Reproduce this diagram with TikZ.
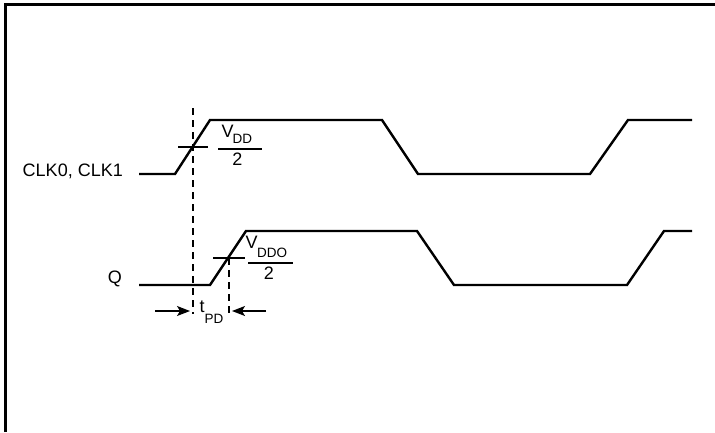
\documentclass[tikz,border=0pt]{standalone}
\usepackage{fontspec}
\setmainfont{Liberation Sans}
\usetikzlibrary{arrows.meta}
\tikzset{
  wave/.style={line width=2.4pt, line join=miter},
  tick/.style={line width=1.8pt},
  guide/.style={line width=1.2pt, dash pattern=on 7pt off 5pt},
  lbl/.style={inner sep=0pt, font=\fontsize{18}{18}\selectfont},
  sub/.style={inner sep=0pt, font=\fontsize{13.5}{13.5}\selectfont},
  dim/.style={line width=1.3pt, -{Stealth[length=13pt,width=10pt,inset=3pt]}},
}
\begin{document}
\begin{tikzpicture}[x=1pt,y=-1pt]
\useasboundingbox (0,0) rectangle (715,432);
\draw[line width=3pt] (5.5,432) -- (5.5,4.5) -- (715,4.5);
% CLK waveform
\coordinate (c0) at (139,174);
\coordinate (c1) at (175,174);
\coordinate (c2) at (210,120);
\coordinate (c3) at (382,120);
\coordinate (c4) at (418,174);
\coordinate (c5) at (590,174);
\coordinate (c6) at (628,120);
\coordinate (c7) at (692,120);
\draw[wave] (c0) -- (c1) -- (c2) -- (c3) -- (c4) -- (c5) -- (c6) -- (c7);
% Q waveform
\coordinate (q0) at (139,285);
\coordinate (q1) at (210,285);
\coordinate (q2) at (246,231);
\coordinate (q3) at (417,231);
\coordinate (q4) at (454,285);
\coordinate (q5) at (627,285);
\coordinate (q6) at (664,231);
\coordinate (q7) at (692,231);
\draw[wave] (q0) -- (q1) -- (q2) -- (q3) -- (q4) -- (q5) -- (q6) -- (q7);
% labels
\node[lbl, anchor=base east] (clk) at (123,176.5) {CLK0, CLK1};
\node[lbl, anchor=base east] (q) at (122,283.5) {Q};
% threshold ticks
\coordinate (m1) at (193,147);
\coordinate (m2) at (229,258);
\draw[tick] (178,147) -- (208,147);
\draw[tick] (213,258) -- (245,258);
% dashed guides
\coordinate (d1t) at (193,108);
\coordinate (d1b) at (193,314);
\coordinate (d2t) at (229,258);
\coordinate (d2b) at (229,314);
\draw[guide] (d1t) -- (d1b);
\draw[guide] (d2t) -- (d2b);
% VDD/2
\node[lbl, anchor=base west] (v1) at (221.5,137.5) {V};
\node[sub, anchor=base west] (v1s) at (232.5,143) {DD};
\draw[line width=2.2pt] (218,149) -- (262,149);
\node[lbl, anchor=base] (two1) at (237.5,165.5) {2};
% VDDO/2
\node[lbl, anchor=base west] (v2) at (245.5,248.5) {V};
\node[sub, anchor=base west] (v2s) at (257,257.5) {DDO};
\draw[line width=2.2pt] (248,263) -- (293,263);
\node[lbl, anchor=base] (two2) at (269,279) {2};
% tPD
\coordinate (a1) at (155,311);
\coordinate (a1e) at (190,311);
\coordinate (a2) at (266,311);
\coordinate (a2e) at (232,311);
\draw[dim] (a1) -- (a1e);
\draw[dim] (a2) -- (a2e);
\node[lbl, anchor=base west] (t) at (199.5,312.5) {t};
\node[sub, anchor=base west] (tpd) at (204.5,323.5) {PD};
\end{tikzpicture}
\end{document}
